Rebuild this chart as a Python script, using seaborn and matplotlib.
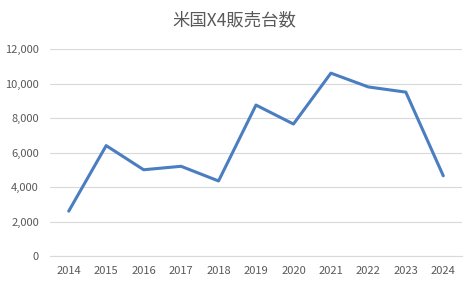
import matplotlib
matplotlib.use("Agg")
import matplotlib.pyplot as plt
import seaborn as sns
import pandas as pd
from matplotlib.ticker import FuncFormatter

years = ["2014", "2015", "2016", "2017", "2018", "2019", "2020", "2021", "2022", "2023", "2024"]
sales = [2600, 6400, 5000, 5200, 4350, 8750, 7650, 10600, 9800, 9500, 4650]
title = "米国X4販売台数"

sns.set_theme(style="white")
plt.rcParams['font.family'] = ['Noto Sans CJK JP', 'DejaVu Sans']

df = pd.DataFrame({"year": years, "sales": sales})

fig = plt.figure(figsize=(4.71, 2.81), dpi=100)
ax = fig.add_axes([50/471, 1-256/281, 412/471, 207/281])
sns.lineplot(data=df, x="year", y="sales", ax=ax, color="#4A7EC0", linewidth=2.2, sort=False)

ax.set_xlim(-0.5, len(years)-0.5)
ax.set_ylim(0, 12000)
ax.set_yticks(range(0, 12001, 2000))
ax.yaxis.set_major_formatter(FuncFormatter(lambda v, p: f"{int(v):,}"))
ax.grid(axis="y", color="#D9D9D9", linewidth=0.8)
ax.grid(axis="x", visible=False)
for s in ["top", "right", "left"]:
    ax.spines[s].set_visible(False)
ax.spines["bottom"].set_color("#D9D9D9")
ax.spines["bottom"].set_linewidth(0.8)
ax.tick_params(axis="both", length=0, labelsize=8, labelcolor="#595959")
ax.tick_params(axis="y", pad=8)
ax.tick_params(axis="x", pad=7)
ax.set_xlabel("")
ax.set_ylabel("")
fig.text(234/471, 1-20/281, title, ha="center", va="center", fontsize=12.5, color="#595959")

fig.savefig("out.png", dpi=100)
